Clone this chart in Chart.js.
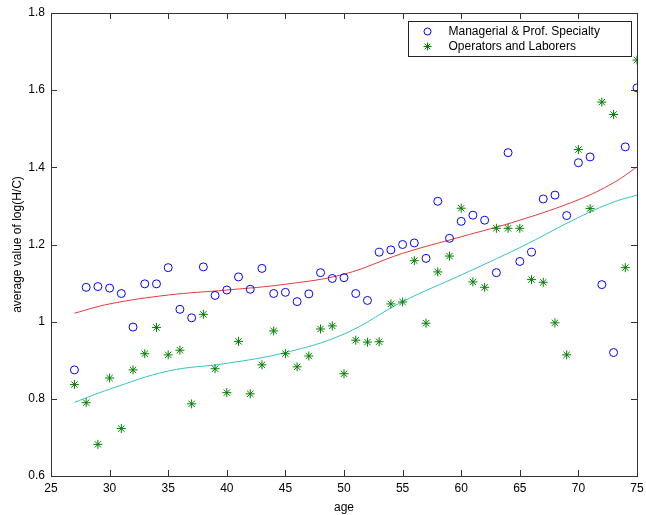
<!DOCTYPE html>
<html>
<head>
<meta charset="utf-8">
<script src="https://cdn.jsdelivr.net/npm/chart.js@4.4.1/dist/chart.umd.min.js"></script>
<style>
  html, body { margin: 0; padding: 0; background: #fff; }
  #wrap { width: 646px; height: 515px; }
</style>
</head>
<body>
<div id="wrap"><canvas id="c" width="646" height="515"></canvas></div>
<script>
// ages 27..75
const ages = [27,28,29,30,31,32,33,34,35,36,37,38,39,40,41,42,43,44,45,46,47,48,49,50,51,
  52,53,54,55,56,57,58,59,60,61,62,63,64,65,66,67,68,69,70,71,72,73,74,75];

const managerial = [0.875,1.089,1.091,1.087,1.073,0.986,1.098,1.098,1.140,1.032,1.010,1.142,1.068,
  1.082,1.116,1.084,1.138,1.073,1.076,1.052,1.072,1.127,1.112,1.114,1.073,1.055,1.180,1.186,1.200,
  1.204,1.164,1.312,1.216,1.260,1.276,1.263,1.127,1.438,1.156,1.180,1.318,1.328,1.275,1.412,1.427,
  1.096,0.920,1.453,1.606];

const operators = [0.837,0.790,0.682,0.854,0.723,0.875,0.917,0.985,0.914,0.926,0.787,1.019,0.878,
  0.816,0.949,0.813,0.888,0.976,0.917,0.883,0.911,0.981,0.989,0.865,0.952,0.947,0.948,1.046,1.051,
  1.158,0.996,1.129,1.170,1.294,1.103,1.089,1.242,1.242,1.242,1.109,1.102,0.997,0.914,1.446,1.293,
  1.569,1.537,1.140,1.678];

// smoothed trend curves
const smoothAges = [27,30,35,40,45,50,55,60,65,70,73,75];
const managerialSmooth = [1.022,1.046,1.069,1.082,1.097,1.123,1.177,1.220,1.263,1.316,1.360,1.401];
const operatorsSmooth = [0.791,0.825,0.872,0.892,0.920,0.968,1.052,1.121,1.192,1.270,1.310,1.328];

const xTicks = [25,30,35,40,45,50,55,60,65,70,75];
const yTicks = [0.6,0.8,1,1.2,1.4,1.6,1.8];
const seriesNames = ['Managerial & Prof. Specialty', 'Operators and Laborers'];

const FONT = '"Liberation Sans", Arial, sans-serif';
const BLUE = '#0000ff';
const GREEN = '#008000';

function pts(xs, ys) { return xs.map((x, i) => ({x: x, y: ys[i]})); }

function drawStar(ctx, x, y, r) {
  ctx.beginPath();
  for (let k = 0; k < 4; k++) {
    const a = k * Math.PI / 4;
    ctx.moveTo(x - r * Math.cos(a), y - r * Math.sin(a));
    ctx.lineTo(x + r * Math.cos(a), y + r * Math.sin(a));
  }
  ctx.stroke();
}

// axis box with inward ticks (matlab look) + legend box
const framePlugin = {
  id: 'frame',
  afterDraw(chart) {
    const ctx = chart.ctx;
    const a = chart.chartArea;
    const xs = chart.scales.x, ys = chart.scales.y;
    ctx.save();
    ctx.strokeStyle = '#333';
    ctx.lineWidth = 1;
    ctx.strokeRect(Math.round(a.left) + 0.5, Math.round(a.top) + 0.5,
      Math.round(a.right - a.left), Math.round(a.bottom - a.top));
    ctx.beginPath();
    const tl = 6;
    xTicks.forEach(v => {
      const px = Math.round(xs.getPixelForValue(v)) + 0.5;
      ctx.moveTo(px, a.bottom); ctx.lineTo(px, a.bottom - tl);
      ctx.moveTo(px, a.top); ctx.lineTo(px, a.top + tl);
    });
    yTicks.forEach(v => {
      const py = Math.round(ys.getPixelForValue(v)) + 0.5;
      ctx.moveTo(a.left, py); ctx.lineTo(a.left + tl, py);
      ctx.moveTo(a.right, py); ctx.lineTo(a.right - tl, py);
    });
    ctx.stroke();

    // legend
    const bw = 223, bh = 35;
    const bx = Math.round(a.right - bw - 6) + 0.5, by = Math.round(a.top + 8) + 0.5;
    ctx.fillStyle = '#fff';
    ctx.fillRect(bx, by, bw, bh);
    ctx.strokeStyle = '#222';
    ctx.strokeRect(bx, by, bw, bh);
    ctx.font = '12px ' + FONT;
    ctx.fillStyle = '#000';
    ctx.textBaseline = 'middle';
    ctx.textAlign = 'left';
    const ly1 = by + 10, ly2 = by + 25;
    ctx.strokeStyle = BLUE;
    ctx.beginPath(); ctx.arc(bx + 19, ly1, 3.5, 0, Math.PI * 2); ctx.stroke();
    ctx.strokeStyle = GREEN;
    drawStar(ctx, bx + 19, ly2, 4);
    ctx.fillText(seriesNames[0], bx + 40, ly1);
    ctx.fillText(seriesNames[1], bx + 40, ly2);
    ctx.restore();
  }
};

new Chart(document.getElementById('c'), {
  type: 'scatter',
  data: {
    datasets: [
      {
        label: seriesNames[0],
        data: pts(ages, managerial),
        pointStyle: 'circle',
        pointRadius: 4,
        borderColor: BLUE,
        backgroundColor: 'rgba(0,0,0,0)',
        borderWidth: 1
      },
      {
        label: seriesNames[1],
        data: pts(ages, operators),
        pointStyle: 'star',
        pointRadius: 4.5,
        borderColor: GREEN,
        backgroundColor: GREEN,
        borderWidth: 1
      },
      {
        label: 'smooth1',
        type: 'line',
        data: pts(smoothAges, managerialSmooth),
        borderColor: '#e8393b',
        borderWidth: 1,
        pointRadius: 0,
        tension: 0.4,
        fill: false
      },
      {
        label: 'smooth2',
        type: 'line',
        data: pts(smoothAges, operatorsSmooth),
        borderColor: '#33c4c4',
        borderWidth: 1,
        pointRadius: 0,
        tension: 0.4,
        fill: false
      }
    ]
  },
  options: {
    responsive: false,
    animation: false,
    layout: { padding: { top: 13, right: 9, left: 0, bottom: 0 } },
    plugins: { legend: { display: false }, tooltip: { enabled: false } },
    scales: {
      x: {
        type: 'linear',
        min: 25, max: 75,
        grid: { display: false, drawTicks: false },
        border: { display: false },
        afterBuildTicks: s => { s.ticks = xTicks.map(v => ({value: v})); },
        afterFit: s => { s.height = 39; s.paddingRight = 0; s.paddingLeft = 0; },
        ticks: { color: '#000', font: { family: FONT, size: 12 }, padding: 5, maxRotation: 0 },
        title: { display: true, text: 'age', color: '#000', font: { family: FONT, size: 12 },
                 padding: { top: 5, bottom: 0 } }
      },
      y: {
        type: 'linear',
        min: 0.6, max: 1.8,
        grid: { display: false, drawTicks: false },
        border: { display: false },
        afterBuildTicks: s => { s.ticks = yTicks.map(v => ({value: v})); },
        afterFit: s => { s.width = 51; s.paddingTop = 0; s.paddingBottom = 0; },
        ticks: { color: '#000', font: { family: FONT, size: 12 }, padding: 6,
                 callback: v => String(v) },
        title: { display: true, text: 'average value of log(H/C)', color: '#000',
                 font: { family: FONT, size: 12 }, padding: { top: 10, bottom: 0 } }
      }
    }
  },
  plugins: [framePlugin]
});
</script>
</body>
</html>
